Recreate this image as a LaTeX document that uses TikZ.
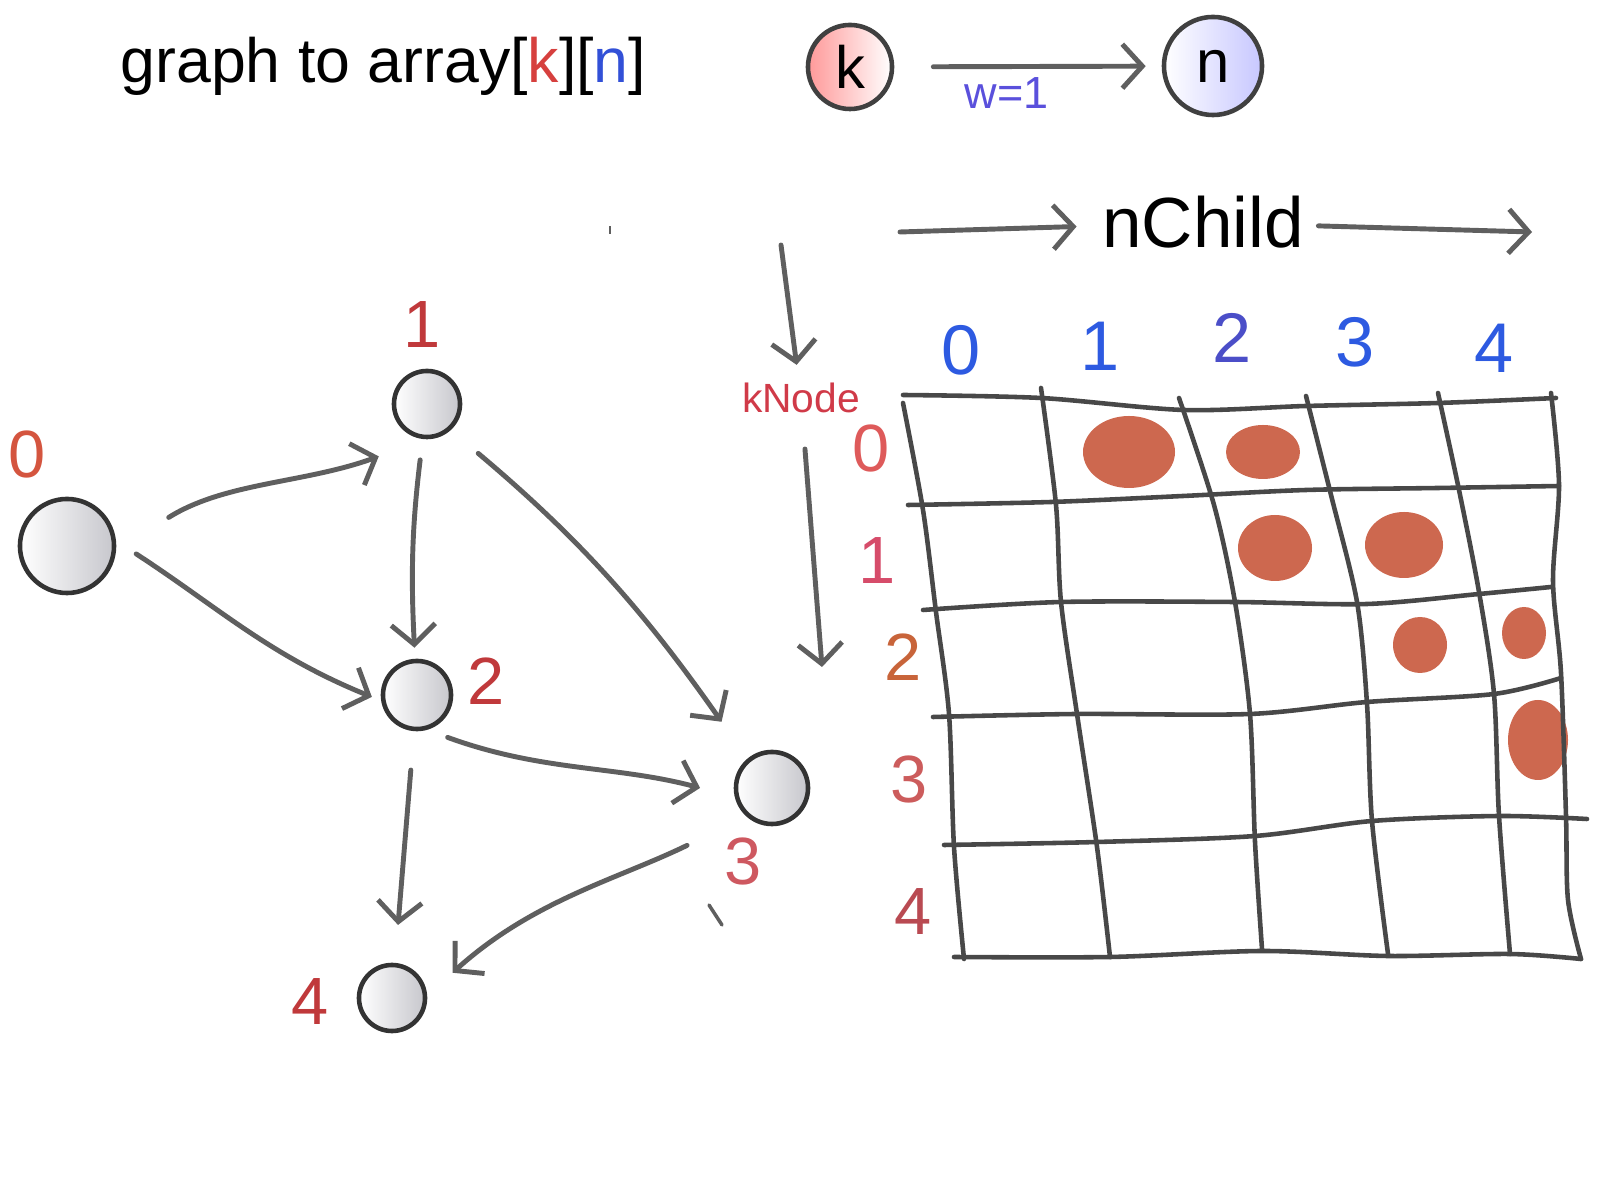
\documentclass[tikz,border=0pt]{standalone}
\usepackage{fontspec}
\setmainfont{Liberation Sans}
\usetikzlibrary{arrows.meta}
\definecolor{pen}{RGB}{95,95,95}
\definecolor{gridc}{RGB}{72,72,72}
\definecolor{blob}{RGB}{202,96,70}
\definecolor{kred}{RGB}{214,64,62}
\definecolor{nblue}{RGB}{50,80,215}
\definecolor{colblue}{RGB}{45,90,225}
\definecolor{colindigo}{RGB}{75,78,200}
\definecolor{wpurple}{RGB}{90,80,220}
\definecolor{knodec}{RGB}{208,58,72}
\definecolor{vred}{RGB}{192,57,59}
\definecolor{vorange}{RGB}{212,85,63}
\definecolor{vpink}{RGB}{206,88,96}
\definecolor{rred}{RGB}{222,90,90}
\definecolor{rpink}{RGB}{214,76,106}
\definecolor{rbrown}{RGB}{200,100,58}
\definecolor{rrose}{RGB}{204,92,92}
\definecolor{rwine}{RGB}{185,74,82}

\begin{document}
\begin{tikzpicture}[x=0.01cm, y=0.01cm,
    >={Straight Barb[length=2mm,width=4.4mm]},
    vertex/.style={circle, draw=black!80, line width=1.3pt, inner sep=0pt, left color=white, right color=blue!10!black!22},
    arr/.style={->, draw=pen, line width=1.4pt, line cap=round},
    gridline/.style={draw=gridc, line width=1.3pt, line cap=round},
    dig/.style={inner sep=0pt, font=\fontsize{19}{19}\selectfont},
    coldig/.style={inner sep=0pt, font=\fontsize{20}{20}\selectfont},
    blobfill/.style={fill=blob, opacity=0.95}]
    \useasboundingbox (0,0) rectangle (1600,1200);

    \node[anchor=base west, inner sep=0pt, font=\fontsize{17.8}{20}\selectfont] (title) at (120,1117) {graph to array[\textcolor{kred}{k}][\textcolor{nblue}{n}]};

    \node[circle, draw=black!75, line width=1.3pt, minimum size=8.4mm, inner sep=0pt, left color=red!40, right color=white, font=\fontsize{17}{17}\selectfont] (kleg) at (850,1133) {k};
    \node[circle, draw=black!75, line width=1.3pt, minimum size=9.8mm, inner sep=0pt, left color=white, right color=blue!22, font=\fontsize{17}{17}\selectfont] (nleg) at (1213,1134) {n};
    \draw[arr, shorten <=3.9mm, shorten >=1.6mm] (kleg) -- (nleg) node[pos=.42, anchor=base, yshift=-4.15mm, inner sep=0pt, text=wpurple, font=\fontsize{12.8}{13}\selectfont] (wlbl) {w=1};

    \node[anchor=base, inner sep=0pt, font=\fontsize{20.2}{21}\selectfont] (nchild) at (1203,952) {nChild};
    \coordinate (ncl) at (900,968);
    \coordinate (ncr) at (1532,968);
    \draw[arr, shorten >=2.5mm] (ncl) -- (nchild);
    \draw[arr, shorten <=1.4mm] (nchild) -- (ncr);

    \node[anchor=base, inner sep=0pt, text=knodec, font=\fontsize{11.6}{12}\selectfont] (knode) at (801,787) {kNode};
    \coordinate (ktop) at (781,955);
    \coordinate (kbot) at (822,533);
    \draw[arr, shorten >=1.8mm] (ktop) -- (knode);
    \draw[arr, shorten <=3.5mm] (knode) -- (kbot);

    \draw[pen, line width=0.8pt] (610,966) -- (610,974);
    \draw[pen, line width=1pt, line cap=round] (709,295) -- (722,275);

    \node[vertex, minimum size=9.4mm] (n0) at (67,654) {};
    \node[vertex, minimum size=6.6mm] (n1) at (427,796) {};
    \node[vertex, minimum size=6.8mm] (n2) at (417,505) {};
    \node[vertex, minimum size=7.2mm] (n3) at (772,412) {};
    \node[vertex, minimum size=6.6mm] (n4) at (392,202) {};
    \node[dig, text=vorange] (l0) at (27,745) {0};
    \node[dig, text=vred] (l1) at (422,875) {1};
    \node[dig, text=vred] (l2) at (486,519) {2};
    \node[dig, text=vpink] (l3) at (743,338) {3};
    \node[dig, text=vred] (l4) at (310,198) {4};

    \draw[arr, shorten <=6.2mm, shorten >=5mm] (n0.-5) to[out=32, in=200] (n1.268);
    \draw[arr, shorten <=2.4mm, shorten >=1mm] (n0.6) to[out=-33, in=158] (n2.189);
    \draw[arr, shorten <=2.1mm, shorten >=1.1mm] (n1) to[bend right=5] (n2);
    \draw[arr, shorten <=3.6mm, shorten >=4.5mm] (n1.-48) to[out=-40, in=125] (n3.130);
    \draw[arr, shorten <=2.2mm, shorten >=3.6mm] (n2.-74) to[out=-20, in=165] (n3.194);
    \draw[arr, shorten <=3.9mm, shorten >=3.8mm] (n2) -- (n4);
    \draw[arr, shorten <=6.6mm, shorten >=3.4mm] (n3.228) to[out=206, in=42] (n4.4);

    \node[coldig, text=colblue] (c0) at (961,850) {0};
    \node[coldig, text=colblue] (c1) at (1100,854) {1};
    \node[coldig, text=colindigo] (c2) at (1232,862) {2};
    \node[coldig, text=colblue] (c3) at (1355,858) {3};
    \node[coldig, text=colblue] (c4) at (1494,852) {4};
    \node[dig, text=rred] (r0) at (871,751) {0};
    \node[dig, text=rpink] (r1) at (877,639) {1};
    \node[dig, text=rbrown] (r2) at (903,543) {2};
    \node[dig, text=rrose] (r3) at (909,420) {3};
    \node[dig, text=rwine] (r4) at (913,288) {4};

    \fill[blobfill] (1129,748) ellipse [x radius=46, y radius=36];
    \fill[blobfill] (1263,748) ellipse [x radius=37, y radius=27];
    \fill[blobfill] (1275,652) ellipse [x radius=37, y radius=33];
    \fill[blobfill] (1404,655) ellipse [x radius=39, y radius=33];
    \fill[blobfill] (1420,555) ellipse [x radius=27, y radius=28];
    \fill[blobfill] (1524,567) ellipse [x radius=22, y radius=26];
    \fill[blobfill] (1538,460) ellipse [x radius=30, y radius=40];

    \draw[gridline] plot[smooth] coordinates {(903,805) (1041,802) (1184,790) (1306,794) (1438,797) (1556,802)};
    \draw[gridline] plot[smooth] coordinates {(908,695) (1051,698) (1183,704) (1306,710) (1438,712) (1559,714)};
    \draw[gridline] plot[smooth] coordinates {(923,590) (1061,598) (1234,598) (1367,596) (1479,606) (1551,613)};
    \draw[gridline] plot[smooth] coordinates {(933,483) (1076,486) (1250,486) (1367,498) (1494,506) (1561,522)};
    \draw[gridline] plot[smooth] coordinates {(944,355) (1097,358) (1255,364) (1372,379) (1499,384) (1587,381)};
    \draw[gridline] plot[smooth] coordinates {(954,243) (1110,243) (1262,249) (1388,244) (1510,246) (1581,241)};
    \draw[gridline] plot[smooth] coordinates {(903,797) (923,690) (936,588) (949,486) (954,353) (964,241)};
    \draw[gridline] plot[smooth] coordinates {(1041,812) (1056,695) (1061,598) (1077,486) (1097,353) (1110,243)};
    \draw[gridline] plot[smooth] coordinates {(1179,802) (1214,695) (1235,598) (1250,486) (1255,358) (1262,251)};
    \draw[gridline] plot[smooth] coordinates {(1306,804) (1331,705) (1357,598) (1367,496) (1372,379) (1388,246)};
    \draw[gridline] plot[smooth] coordinates {(1438,807) (1459,710) (1479,608) (1494,506) (1499,384) (1510,246)};
    \draw[gridline] plot[smooth] coordinates {(1551,807) (1559,715) (1553,619) (1561,527) (1566,384) (1568,300) (1581,241)};
\end{tikzpicture}
\end{document}
